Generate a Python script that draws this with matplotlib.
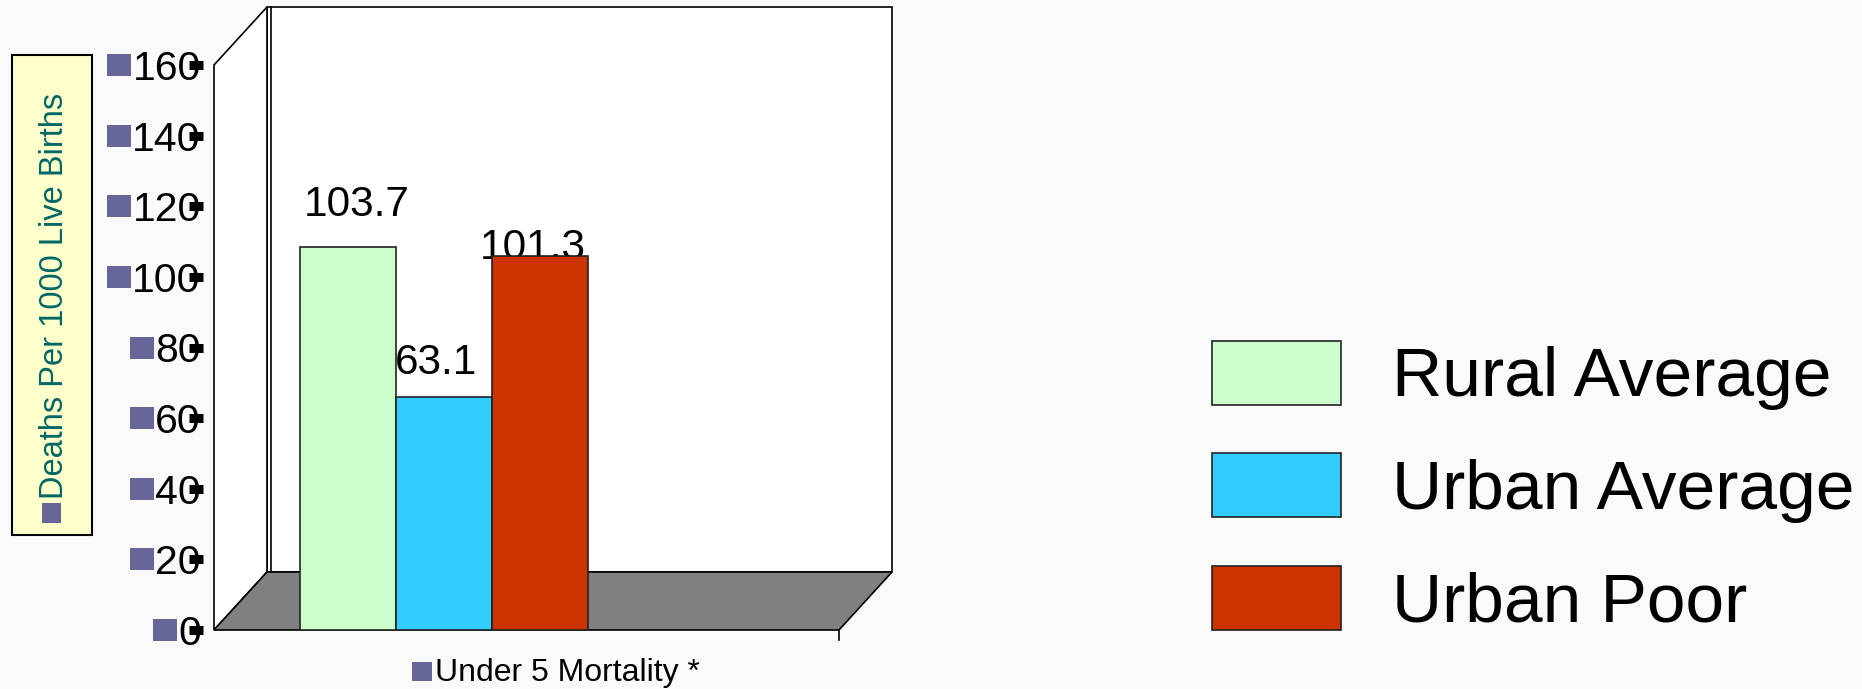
import matplotlib.pyplot as plt
from matplotlib.patches import Polygon, Rectangle

plt.rcParams['font.family'] = ['Liberation Sans', 'DejaVu Sans']

# data
series = ["Rural Average", "Urban Average", "Urban Poor"]
values = [103.7, 63.1, 101.3]
colors = ["#ccffcc", "#33ccff", "#cc3300"]
category = "Under 5 Mortality *"
y_ticks = [0, 20, 40, 60, 80, 100, 120, 140, 160]
y_title = "Deaths Per 1000 Live Births"

W, H = 1862, 689
fig = plt.figure(figsize=(W / 100, H / 100), dpi=100, facecolor="#fafafa")


def fx(x):
    return x / W


def fy(y):
    return 1 - y / H


bullet = "#666699"


def square(x0, y0, w, h):
    # bullet square, pixel box measured from the top-left of the figure
    fig.patches.append(Rectangle((fx(x0), fy(y0 + h)), w / W, h / H,
                                 transform=fig.transFigure, fc=bullet,
                                 ec='none'))


# front plane of the 3-D box (pixels)
left, right, bottom, top = 214, 839, 630, 65
rect = [fx(left), fy(bottom), fx(right) - fx(left), fy(top) - fy(bottom)]

ax = fig.add_axes(rect)
ax.patch.set_visible(False)
ax.set_xlim(-1.40, 5.11)
ax.set_ylim(0, 160)
for s in ax.spines.values():
    s.set_visible(False)
ax.spines['left'].set_position(('outward', 8))
ax.set_yticks(y_ticks)
ax.set_xticks([])
ax.tick_params(axis='y', length=10, width=0, pad=-8.5, labelsize=29.5)

# walls and floor of the box, depth offset in axes fractions
dx, dy = 53 / (right - left), 58 / (bottom - top)
box = dict(transform=ax.transAxes, clip_on=False, ec='black', lw=1.2)
ax.add_patch(Rectangle((dx, dy), 1, 1, fc='white', zorder=0, **box))
ax.add_patch(Polygon([(0, 0), (0, 1), (dx, 1 + dy), (dx, dy)],
                     fc='white', zorder=0, **box))
ax.plot([dx + 4 / (right - left)] * 2, [dy, 1 + dy], color='black', lw=1.2,
        transform=ax.transAxes, clip_on=False, zorder=0.5)
ax.add_patch(Polygon([(0, 0), (dx, dy), (1 + dx, dy), (1, 0)],
                     fc='#808080', zorder=1, **box))
ax.plot([1, 1], [0, -10 / (bottom - top)], color='black', lw=1.2,
        transform=ax.transAxes, clip_on=False)

# tick marks drawn over the labels
tax = fig.add_axes(rect, sharey=ax)
tax.patch.set_visible(False)
for s in tax.spines.values():
    s.set_visible(False)
tax.spines['left'].set_position(('outward', 8))
tax.set_xticks([])
tax.tick_params(axis='y', direction='out', length=10, width=6.5,
                color='black', labelleft=False)

# bars sit in the plot plane of the box
bax = fig.add_axes(rect, sharex=ax)
bax.set_ylim(0, 153.1)
bax.axis('off')
x = list(range(len(values)))
bars = bax.bar(x, values, width=1.0, color=colors, edgecolor='#222222',
               lw=1.2, zorder=3)

label_offsets = [(8, 42), (-8, 34), (-8, 8)]
for xi, v, (ox, oy) in zip(x, values, label_offsets):
    bax.annotate(f"{v:.1f}", (xi, v), xytext=(ox, oy),
                 textcoords='offset pixels', ha='center', va='center',
                 fontsize=30.5, zorder=2)

# axis title in a yellow box
fig.patches.append(Rectangle((fx(12), fy(535)), fx(80), 480 / H,
                             transform=fig.transFigure, fc='#ffffcc',
                             ec='black', lw=1.5))
fig.text(fx(55), fy(499), y_title, rotation=90, ha='center', va='bottom',
         fontsize=23.5, color='#006666')
square(42, 503, 19, 20)

# category label
fig.text(fx(435), fy(681), category, ha='left', va='baseline', fontsize=23)
square(412, 662, 20, 19)

# legend
fig.legend(bars.patches, series, loc='center left',
           bbox_to_anchor=(fx(1212), fy(488)), frameon=False, fontsize=50,
           handlelength=1.86, handleheight=1.04, handletextpad=0.73,
           labelspacing=0.615, borderpad=0, borderaxespad=0)

# bullet squares in front of the tick labels
fig.canvas.draw()
for lab in ax.get_yticklabels():
    bb = lab.get_window_extent()
    _, ypix = ax.transData.transform((0, float(lab.get_position()[1])))
    square(bb.x0 - 25, H - ypix - 11, 24, 22)

fig.savefig("out.png", dpi=100, facecolor=fig.get_facecolor())
